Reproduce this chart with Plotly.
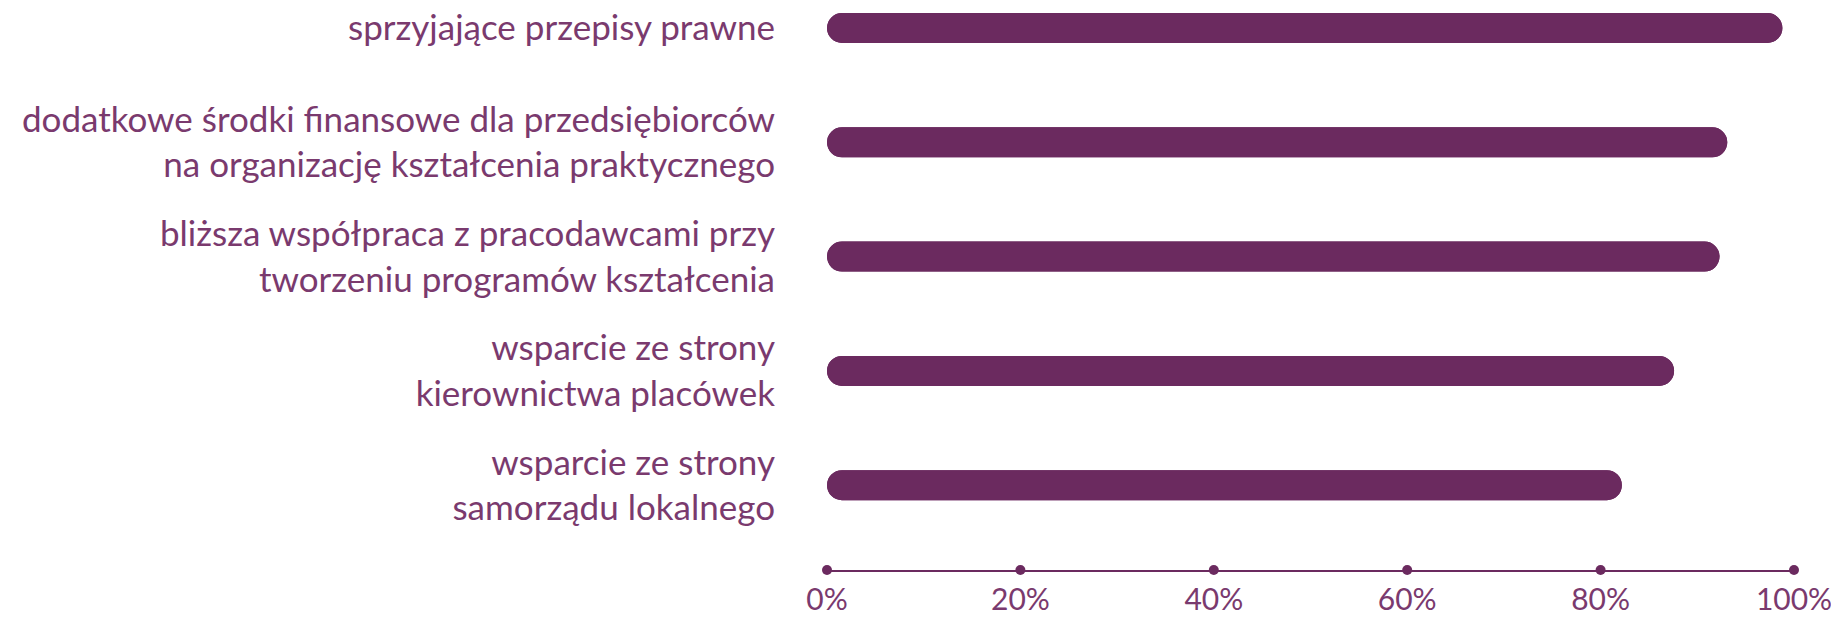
import plotly.graph_objects as go

categories = [
    "sprzyjające przepisy prawne",
    "dodatkowe środki finansowe dla przedsiębiorców<br>na organizację kształcenia praktycznego",
    "bliższa współpraca z pracodawcami przy<br>tworzeniu programów kształcenia",
    "wsparcie ze strony<br>kierownictwa placówek",
    "wsparcie ze strony<br>samorządu lokalnego",
]
values = [98.8, 93.1, 92.3, 87.6, 82.2]
tick_vals = [0, 20, 40, 60, 80, 100]
tick_text = ["0%", "20%", "40%", "60%", "80%", "100%"]

PURPLE = "#6b2a5f"
TEXT = "#7a3a6e"
FONT = "Lato"
positions = list(range(len(categories)))

fig = go.Figure()

# rounded right end
fig.add_trace(go.Bar(
    x=values, y=positions, base=0, orientation="h",
    width=0.2625, marker=dict(color=PURPLE, cornerradius=15, line_width=0),
    showlegend=False, hoverinfo="skip",
))
# same bar drawn backwards so the left end is rounded too
fig.add_trace(go.Bar(
    x=[-v for v in values], y=positions, base=values, orientation="h",
    width=0.2625, marker=dict(color=PURPLE, cornerradius=15, line_width=0),
    showlegend=False, hoverinfo="skip",
))

# dots on the axis line
fig.add_trace(go.Scatter(
    x=tick_vals, y=[0] * len(tick_vals), yaxis="y2", mode="markers",
    marker=dict(color=PURPLE, size=10), cliponaxis=False,
    showlegend=False, hoverinfo="skip",
))

fig.update_layout(
    width=1831, height=610,
    margin=dict(l=819, r=45, t=0, b=48, autoexpand=False),
    paper_bgcolor="white", plot_bgcolor="white",
    barmode="overlay",
    font=dict(family=FONT, color=TEXT, size=35),
    xaxis=dict(
        range=[0, 100], tickvals=tick_vals, ticktext=tick_text,
        showgrid=False, zeroline=False,
        showline=True, linecolor=PURPLE, linewidth=2,
        ticks="", ticklabeloverflow="allow", ticklabelstandoff=2,
        tickfont=dict(size=30, color=TEXT),
    ),
    yaxis=dict(
        range=[4.742, -0.175], tickvals=positions, ticktext=categories,
        showgrid=False, zeroline=False, showline=False,
        ticks="outside", ticklen=44, tickcolor="rgba(0,0,0,0)",
        ticklabeloverflow="allow",
        tickfont=dict(size=35, color=TEXT),
    ),
    yaxis2=dict(overlaying="y", range=[0, 1], visible=False),
)

fig.write_html("out.html")
